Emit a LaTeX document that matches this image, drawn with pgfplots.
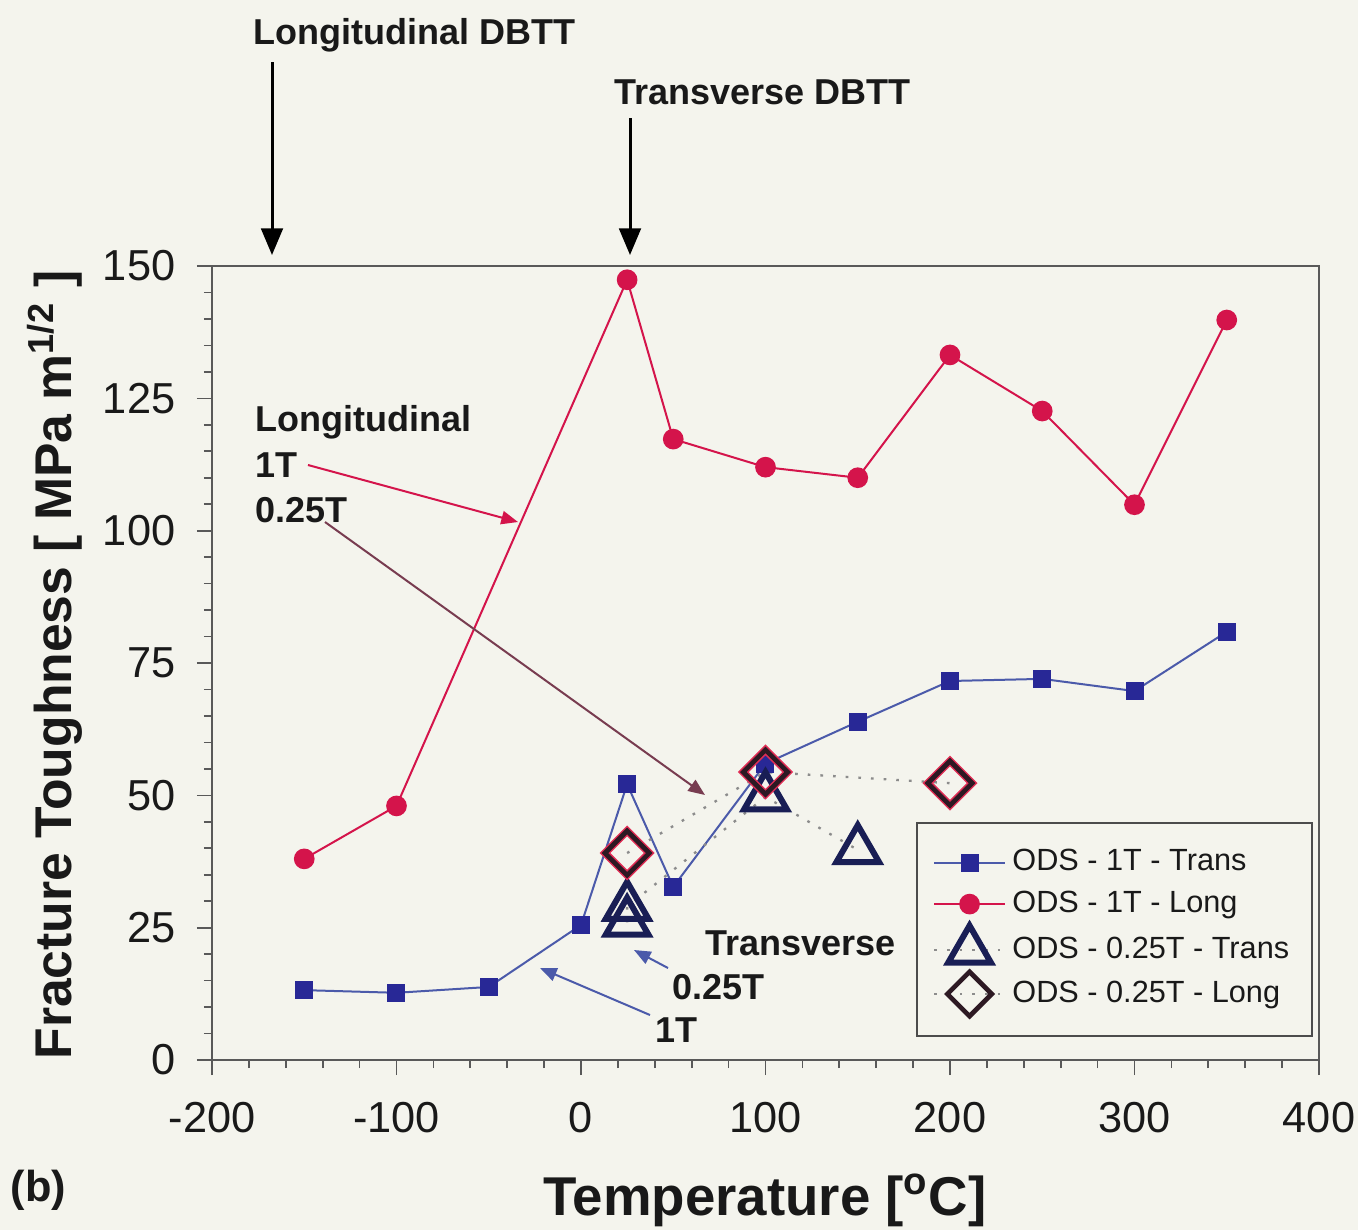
\documentclass[border=0pt]{standalone}
\usepackage{fontspec}
\setmainfont{Liberation Sans}
\usepackage{pgfplots}
\pgfplotsset{compat=1.18}
\usetikzlibrary{arrows.meta}
\definecolor{bg}{RGB}{244,244,237}
\definecolor{sqblue}{RGB}{40,40,150}
\definecolor{lnblue}{RGB}{75,90,170}
\definecolor{crim}{RGB}{212,20,75}
\definecolor{navy}{RGB}{25,30,85}
\definecolor{dmd}{RGB}{45,25,35}
\definecolor{dmdred}{RGB}{225,45,85}
\definecolor{txt}{RGB}{25,25,25}
\definecolor{mauve}{RGB}{120,60,80}
\begin{document}
\begin{tikzpicture}
\begin{scope}[x=0.3pt,y=-0.3pt,shift={(-63.6pt,318pt)}]
\fill[bg] (0,0) rectangle (1358,1230);
\end{scope}
\begin{axis}[
  at={(0,0)}, anchor=south west,
  width=332.1pt, height=238.2pt, scale only axis,
  xmin=-200, xmax=400, ymin=0, ymax=150,
  xtick={-200,-100,...,400}, ytick={0,25,...,150},
  minor x tick num=4, minor y tick num=4,
  tick pos=left, tick align=outside,
  major tick length=4.5pt, minor tick length=2.4pt,
  axis line style={draw=black!65, line width=0.6pt},
  every tick/.style={draw=black!65, line width=0.5pt},
  tick label style={font=\fontsize{13}{15}\selectfont, text=txt},
  /pgf/number format/assume math mode=true,
  xticklabel style={yshift=-4.5pt},
  yticklabel style={xshift=-3pt},
  legend style={at={(0.995,0.30)}, anchor=north east, draw=black!70, line width=0.6pt, fill=bg,
    font=\fontsize{9.2}{11}\selectfont, text=txt, inner xsep=5pt, inner ysep=6pt, row sep=0.5pt},
  legend cell align=left,
  legend image code/.code={\draw[mark repeat=2,mark phase=2] plot coordinates {(0cm,0cm) (0.37cm,0cm) (0.74cm,0cm)};},
]
\addplot[lnblue, line width=0.6pt, mark=square*, mark size=2.4pt, mark options={sqblue, fill=sqblue}]
 coordinates {(-150,13.2) (-100,12.7) (-50,13.8) (0,25.5) (25,52.1) (50,32.7) (100,56.0) (150,63.9) (200,71.6) (250,72.0) (300,69.7) (350,80.9)};
\addlegendentry{ODS - 1T - Trans}
\addplot[crim, line width=0.6pt, mark=*, mark size=2.8pt, mark options={crim, fill=crim}]
 coordinates {(-150,38.0) (-100,48.0) (25,147.4) (50,117.3) (100,112.0) (150,110.0) (200,133.2) (250,122.6) (300,104.9) (350,139.8)};
\addlegendentry{ODS - 1T - Long}
\addplot[black!45, line width=0.7pt, dash pattern=on 0.8pt off 3pt, mark=triangle, mark size=7.4pt, mark options={navy, solid, line width=1.8pt, fill=none}]
 coordinates {(25,26) (25,29) (100,49.7) (150,39.7)};
\addlegendentry{ODS - 0.25T - Trans}
\addplot[forget plot, draw=none, mark=square, mark size=4.7pt, mark options={rotate=45, dmdred, solid, line width=2.3pt, fill=none}]
 coordinates {(25,39.1) (100,54.4) (200,52.3)};
\addplot[black!45, line width=0.7pt, dash pattern=on 0.8pt off 3pt, mark=square, mark size=4.7pt, mark options={rotate=45, dmd, solid, line width=1.4pt, fill=none}]
 coordinates {(25,39.1) (100,54.4) (200,52.3)};
\addlegendentry{ODS - 0.25T - Long}
\end{axis}
\begin{scope}[x=0.3pt,y=-0.3pt,shift={(-63.6pt,318pt)}]
\tikzset{ann/.style={font=\fontsize{10.8}{13}\selectfont\bfseries, text=txt, inner sep=0pt, anchor=west}}
\node[ann] at (253,35) {Longitudinal DBTT};
\node[ann] at (614,92) {Transverse DBTT};
\draw[black, line width=0.9pt, -{Triangle[length=8pt,width=6.5pt]}] (272,62) -- (272,255);
\draw[black, line width=0.9pt, -{Triangle[length=8pt,width=6.5pt]}] (630,118) -- (630,255);
\node[ann] at (255,422) {Longitudinal};
\node[ann] at (255,465) {1T};
\node[ann] at (255,510) {0.25T};
\draw[crim, line width=0.6pt, -{Triangle[length=5pt,width=4pt]}] (308,465) -- (518,522);
\draw[mauve, line width=0.6pt, -{Triangle[length=5pt,width=4pt]}] (325,522) -- (705,795);
\node[ann] at (705,943) {Transverse};
\node[ann] at (672,987) {0.25T};
\node[ann] at (655,1030) {1T};
\draw[lnblue, line width=0.6pt, -{Triangle[length=5pt,width=4pt]}] (668,968) -- (634,950);
\draw[lnblue, line width=0.6pt, -{Triangle[length=5pt,width=4pt]}] (650,1015) -- (540,968);
\node[font=\fontsize{13}{15}\selectfont\bfseries, text=txt, inner sep=0pt, anchor=west] at (10,1190) {(b)};
\node[font=\fontsize{16.4}{19}\selectfont\bfseries, text=txt, inner sep=0pt] at (765,1200) {Temperature [\textsuperscript{o}C]};
\node[font=\fontsize{15.5}{18}\selectfont\bfseries, text=txt, inner sep=0pt, rotate=90] at (55,665) {Fracture Toughness [ MPa m\textsuperscript{1/2} ]};
\pgfresetboundingbox
\path[use as bounding box] (0,0) rectangle (1358,1230);
\end{scope}
\end{tikzpicture}
\end{document}
